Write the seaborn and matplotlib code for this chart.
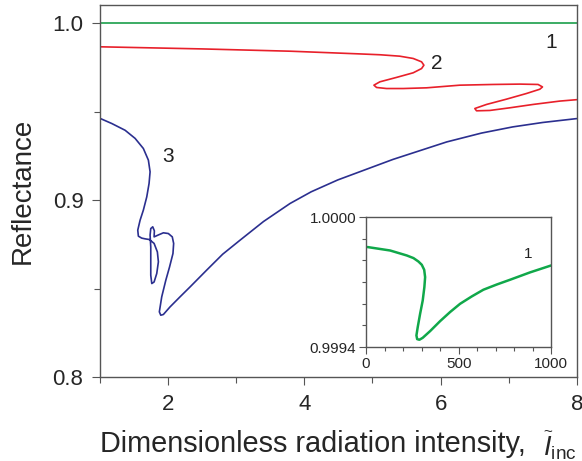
import matplotlib
matplotlib.use('Agg')
import matplotlib.pyplot as plt
import seaborn as sns
from matplotlib.ticker import MultipleLocator

sns.set_style('ticks')
plt.rcParams['font.family'] = ['Liberation Sans', 'DejaVu Sans']
plt.rcParams['mathtext.fontset'] = 'custom'
plt.rcParams['mathtext.rm'] = 'Liberation Sans'
plt.rcParams['mathtext.it'] = 'Liberation Sans:italic'

# Curve 1 (main plot): reflectance stays at 1.0
c1_x = [1.0, 8.0]
c1_y = [1.0, 1.0]

# Curve 2 (red) in drawing order
c2_x = [1.0, 2.5, 3.8, 4.8, 5.11, 5.40, 5.598, 5.721, 5.755, 5.721, 5.598, 5.354,
        5.109, 5.021, 5.06, 5.207, 5.451, 5.795, 6.283, 6.772, 7.164, 7.432, 7.497,
        7.457, 7.262, 6.969, 6.675, 6.503, 6.528, 6.723, 7.017, 7.359, 7.751, 8.0]
c2_y = [0.9868, 0.9856, 0.9843, 0.9828, 0.9823, 0.9815, 0.9802, 0.9783, 0.9764,
        0.9745, 0.9721, 0.9695, 0.9670, 0.9651, 0.9638, 0.9632, 0.9632, 0.9636,
        0.9651, 0.9655, 0.9657, 0.9655, 0.9641, 0.9628, 0.9604, 0.9572, 0.9542,
        0.9519, 0.9506, 0.9508, 0.9523, 0.9542, 0.9561, 0.9569]

# Curve 3 (blue) in drawing order
c3_x = [1.0, 1.172, 1.367, 1.514, 1.635, 1.709, 1.734, 1.719, 1.685, 1.635, 1.587,
        1.553, 1.562, 1.611, 1.660, 1.724, 1.793, 1.841, 1.856, 1.832, 1.793, 1.759,
        1.744, 1.744, 1.744, 1.734, 1.744, 1.773, 1.797, 1.793, 1.856, 1.929, 2.002,
        2.06, 2.08, 2.07, 2.02, 1.965, 1.905, 1.870, 1.891, 1.929, 2.027, 2.174,
        2.321, 2.565, 2.80, 3.054, 3.40, 3.79, 4.10, 4.49, 5.30, 6.09, 6.60, 7.06,
        7.50, 8.0]
c3_y = [0.9463, 0.9434, 0.9396, 0.9350, 0.9293, 0.9227, 0.9161, 0.9095, 0.9019,
        0.8944, 0.8887, 0.8831, 0.8797, 0.8786, 0.8782, 0.8778, 0.8756, 0.8708,
        0.8652, 0.8586, 0.8538, 0.8529, 0.8576, 0.8661, 0.8736, 0.8803, 0.8840,
        0.8850, 0.8827, 0.8793, 0.8804, 0.8816, 0.8812, 0.8793, 0.8756, 0.8699,
        0.8623, 0.8548, 0.8454, 0.8369, 0.8350, 0.8354, 0.8397, 0.8454, 0.8510,
        0.8605, 0.8695, 0.8774, 0.8880, 0.8982, 0.9048, 0.9115, 0.9231, 0.9330,
        0.9380, 0.9415, 0.9440, 0.9462]

# Inset: curve 1 on a fine scale
in_x = [7, 130, 220, 256, 283, 301, 314, 319, 315, 306, 292, 279, 272, 276, 288,
        306, 346, 400, 454, 508, 571, 634, 706, 778, 886, 1000]
in_y = [0.999862, 0.999846, 0.999823, 0.999811, 0.999795, 0.999780, 0.999757,
        0.999723, 0.999677, 0.999615, 0.999554, 0.999492, 0.999454, 0.999437,
        0.999434, 0.999443, 0.999474, 0.999520, 0.999562, 0.999600, 0.999634,
        0.999665, 0.999689, 0.999711, 0.999745, 0.999777]

green = '#1a9e4a'
red = '#e8202a'
blue = '#2b2f8f'

fig = plt.figure(figsize=(5.82, 4.61), dpi=100)
ax = fig.add_axes([0.172, 0.182, 0.819, 0.807])

sns.lineplot(x=c1_x, y=c1_y, ax=ax, color=green, lw=1.2, sort=False, estimator=None)
sns.lineplot(x=c2_x, y=c2_y, ax=ax, color=red, lw=1.2, sort=False, estimator=None)
sns.lineplot(x=c3_x, y=c3_y, ax=ax, color=blue, lw=1.2, sort=False, estimator=None)

ax.set_xlim(1, 8)
ax.set_ylim(0.8, 1.0104)
ax.set_xticks([2, 4, 6, 8])
ax.set_yticks([0.8, 0.9, 1.0])
ax.set_yticklabels(['0.8', '0.9', '1.0'])
ax.xaxis.set_minor_locator(MultipleLocator(1))
ax.yaxis.set_minor_locator(MultipleLocator(0.05))
ax.tick_params(which='major', length=6, width=0.8, labelsize=16, pad=6, color='#555555')
ax.tick_params(which='minor', length=4, width=0.8, color='#555555')
for s in ax.spines.values():
    s.set_color('#555555')
    s.set_linewidth(1.0)
ax.set_ylabel('Reflectance', fontsize=20, labelpad=12)
ax.set_xlabel('Dimensionless radiation intensity,', fontsize=20.8, labelpad=11, loc='left')
ax.text(0.930, -0.210, r'$\widetilde{I}_{\rm inc}$', transform=ax.transAxes,
        fontsize=19.5, ha='left', va='baseline', clip_on=False)

ax.text(7.62, 0.9895, '1', fontsize=15, ha='center', va='center', color='#222222')
ax.text(5.95, 0.9775, '2', fontsize=15, ha='center', va='center', color='#222222')
ax.text(2.0, 0.9245, '3', fontsize=15, ha='center', va='center', color='#222222')

ins = fig.add_axes([0.629, 0.247, 0.318, 0.282])
sns.lineplot(x=in_x, y=in_y, ax=ins, color='#10a84a', lw=1.8, sort=False, estimator=None)
ins.set_xlim(0, 1000)
ins.set_ylim(0.9994, 1.0)
ins.set_xticks([0, 500, 1000])
ins.set_yticks([0.9994, 1.0])
ins.set_yticklabels(['0.9994', '1.0000'])
ins.xaxis.set_minor_locator(MultipleLocator(100))
ins.yaxis.set_minor_locator(MultipleLocator(0.0001))
ins.tick_params(which='major', length=5, width=0.8, labelsize=11, pad=2, color='#555555')
ins.tick_params(which='minor', length=3, width=0.8, color='#555555')
for s in ins.spines.values():
    s.set_color('#555555')
    s.set_linewidth(1.0)
ins.text(877, 0.999831, '1', fontsize=11, ha='center', va='center', color='#222222')

fig.savefig('out.png', dpi=100)
